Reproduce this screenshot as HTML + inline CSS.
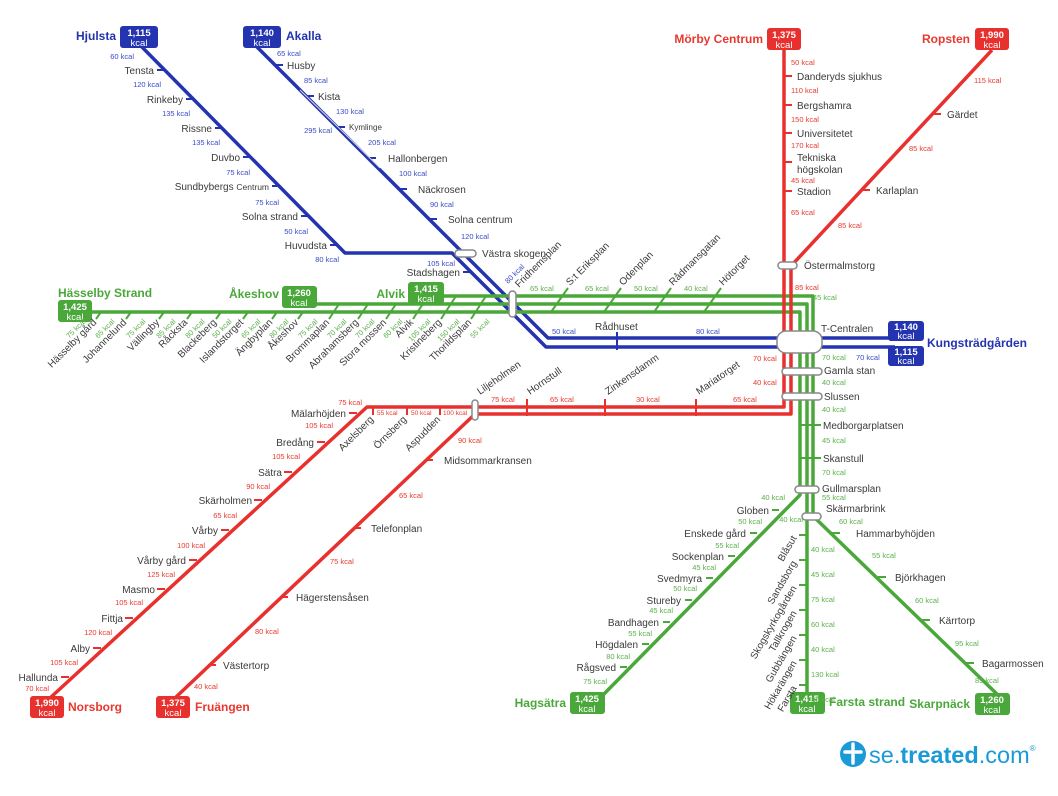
<!DOCTYPE html>
<html><head><meta charset="utf-8"><style>
html,body{margin:0;padding:0;background:#fff;}
svg{display:block;font-family:"Liberation Sans",sans-serif;}
.n{font-size:10px;fill:#3a3a3a;}
.b{font-size:7.5px;fill:#3a4bc8;}
.r{font-size:7.5px;fill:#e8392f;}
.g{font-size:7.5px;fill:#5bb04a;}
.tb{font-size:12px;font-weight:bold;fill:#2433b0;}
.tr{font-size:12px;font-weight:bold;fill:#e8392f;}
.tg{font-size:12px;font-weight:bold;fill:#4aa83a;}
.bx{font-size:9.5px;fill:#fff;font-weight:bold;}
.bk{font-size:9.5px;fill:#fff;}
</style></head><body>
<svg width="1058" height="796" viewBox="0 0 1058 796" xmlns="http://www.w3.org/2000/svg">
<g fill="none" stroke-linejoin="round">
<!-- BLUE -->
<g stroke="#2433b0" stroke-width="3.5">
<polyline points="140,45 345,253 452,253 546,347 895,347"/>
<polyline points="255,45 548,338 895,338"/>
<path d="M157,70h7M186,99h7M215,128h7M243,157h7M272,186h7M301,216h7M330,245h7" stroke-width="2"/>
<path d="M275,65h8M306,96h8M337,127h8M368,158h8M399,189h8M429,219h8M463,272h8M617,332v18" stroke-width="2"/>
</g>
<path d="M300,90 L380,168" stroke="#ddd" stroke-width="1"/>
<!-- GREEN -->
<g stroke="#4aa83a" stroke-width="3.5">
<polyline points="80,312 800,312 800,495 603,695"/>
<polyline points="300,304 807,304 807,700"/>
<polyline points="430,296 813,296 813,516 1000,697"/>
<g stroke-width="2">
<path d="M101,312l-5,7M131,312l-5,7M164,312l-5,7M192,312l-5,7M221,312l-5,7M248,312l-5,7M277,312l-5,7M303,312l-5,7"/>
<path d="M339,304l-10,15M368,304l-10,15M396,304l-10,15"/>
<path d="M428,296l-15,23M456,296l-15,23M486,296l-15,23"/>
<path d="M568,288l-17,24M621,288l-17,24M671,288l-17,24M721,288l-17,24"/>
<path d="M813,425h8M813,458h8M800,425h13M800,458h13"/>
<path d="M779,510h-7M757,533h-7M735,556h-7M713,578h-7M692,600h-7M670,622h-7M649,644h-7M627,667h-7"/>
<path d="M807,535h-8M807,560h-8M807,585h-8M807,610h-8M807,635h-8M807,660h-8M807,685h-8"/>
<path d="M832,533h8M878,577h8M922,620h8M966,663h8"/>
</g>
</g>
<!-- RED -->
<g stroke="#e8312e" stroke-width="3.5">
<polyline points="784,50 784,407 367,407 50,698"/>
<polyline points="992,50 791,266 791,414 475,414 175,698"/>
<g stroke-width="2">
<path d="M784,76h8M784,105h8M784,133h8M784,162h8M784,191h8"/>
<path d="M933,114h8M862,190h8"/>
<path d="M373,407v8M407,407v8M440,407v8M527,399v17M605,399v17M696,399v17"/>
<path d="M357,413h-8M325,442h-8M292,472h-8M262,500h-8M229,530h-8M197,560h-8M165,589h-8M133,618h-8M101,648h-8M69,677h-8"/>
<path d="M425,460h8M353,528h8M280,597h8M208,665h8"/>
</g>
</g>
</g>
<!-- interchange capsules -->
<g fill="#fff" stroke="#888" stroke-width="1.5">
<rect x="455" y="250" width="21" height="7" rx="3.5"/>
<rect x="509" y="291" width="7" height="26" rx="3.5"/>
<rect x="778" y="262" width="19" height="7" rx="3.5"/>
<rect x="777" y="331" width="45" height="22" rx="9"/>
<rect x="782" y="368" width="40" height="7" rx="3.5"/>
<rect x="782" y="393" width="40" height="7" rx="3.5"/>
<rect x="472" y="400" width="6" height="20" rx="3"/>
<rect x="795" y="486" width="24" height="7" rx="3.5"/>
<rect x="802" y="513" width="19" height="7" rx="3.5"/>
</g>
<!-- terminal boxes -->
<g>
<rect x="120" y="26" width="38" height="22" rx="3" fill="#2433b0"/><text x="139" y="36" text-anchor="middle" class="bx">1,115</text><text x="139" y="46" text-anchor="middle" class="bk">kcal</text>
<text x="116" y="40" text-anchor="end" class="tb">Hjulsta</text>
<rect x="243" y="26" width="38" height="22" rx="3" fill="#2433b0"/><text x="262" y="36" text-anchor="middle" class="bx">1,140</text><text x="262" y="46" text-anchor="middle" class="bk">kcal</text>
<text x="286" y="40" class="tb">Akalla</text>
<rect x="888" y="321" width="36" height="20" rx="3" fill="#2433b0"/><text x="906" y="330" text-anchor="middle" class="bx">1,140</text><text x="906" y="339" text-anchor="middle" class="bk">kcal</text>
<rect x="888" y="346" width="36" height="20" rx="3" fill="#2433b0"/><text x="906" y="355" text-anchor="middle" class="bx">1,115</text><text x="906" y="364" text-anchor="middle" class="bk">kcal</text>
<text x="927" y="347" class="tb">Kungsträdgården</text>
<rect x="767" y="28" width="34" height="22" rx="3" fill="#e8312e"/><text x="784" y="38" text-anchor="middle" class="bx">1,375</text><text x="784" y="48" text-anchor="middle" class="bk">kcal</text>
<text x="763" y="43" text-anchor="end" class="tr">Mörby Centrum</text>
<rect x="975" y="28" width="34" height="22" rx="3" fill="#e8312e"/><text x="992" y="38" text-anchor="middle" class="bx">1,990</text><text x="992" y="48" text-anchor="middle" class="bk">kcal</text>
<text x="970" y="43" text-anchor="end" class="tr">Ropsten</text>
<rect x="30" y="696" width="34" height="22" rx="3" fill="#e8312e"/><text x="47" y="706" text-anchor="middle" class="bx">1,990</text><text x="47" y="716" text-anchor="middle" class="bk">kcal</text>
<text x="68" y="711" class="tr">Norsborg</text>
<rect x="156" y="696" width="34" height="22" rx="3" fill="#e8312e"/><text x="173" y="706" text-anchor="middle" class="bx">1,375</text><text x="173" y="716" text-anchor="middle" class="bk">kcal</text>
<text x="195" y="711" class="tr">Fruängen</text>
<rect x="58" y="300" width="34" height="22" rx="3" fill="#4aa83a"/><text x="75" y="310" text-anchor="middle" class="bx">1,425</text><text x="75" y="320" text-anchor="middle" class="bk">kcal</text>
<text x="58" y="297" class="tg">Hässelby Strand</text>
<rect x="282" y="286" width="35" height="22" rx="3" fill="#4aa83a"/><text x="299" y="296" text-anchor="middle" class="bx">1,260</text><text x="299" y="306" text-anchor="middle" class="bk">kcal</text>
<text x="279" y="298" text-anchor="end" class="tg">Åkeshov</text>
<rect x="408" y="282" width="36" height="22" rx="3" fill="#4aa83a"/><text x="426" y="292" text-anchor="middle" class="bx">1,415</text><text x="426" y="302" text-anchor="middle" class="bk">kcal</text>
<text x="405" y="298" text-anchor="end" class="tg">Alvik</text>
<rect x="570" y="692" width="35" height="22" rx="3" fill="#4aa83a"/><text x="587" y="702" text-anchor="middle" class="bx">1,425</text><text x="587" y="712" text-anchor="middle" class="bk">kcal</text>
<text x="566" y="707" text-anchor="end" class="tg">Hagsätra</text>
<rect x="790" y="692" width="35" height="22" rx="3" fill="#4aa83a"/><text x="807" y="702" text-anchor="middle" class="bx">1,415</text><text x="807" y="712" text-anchor="middle" class="bk">kcal</text>
<text x="829" y="706" class="tg">Farsta strand</text>
<rect x="975" y="693" width="35" height="22" rx="3" fill="#4aa83a"/><text x="992" y="703" text-anchor="middle" class="bx">1,260</text><text x="992" y="713" text-anchor="middle" class="bk">kcal</text>
<text x="970" y="708" text-anchor="end" class="tg">Skarpnäck</text>
</g>
<!-- Hjulsta labels -->
<g class="n" text-anchor="end">
<text x="154" y="74">Tensta</text><text x="183" y="103">Rinkeby</text><text x="212" y="132">Rissne</text><text x="240" y="161">Duvbo</text>
<text x="269" y="190">Sundbybergs <tspan font-size="8.5">Centrum</tspan></text><text x="298" y="220">Solna strand</text><text x="327" y="249">Huvudsta</text>
<text x="460" y="276">Stadshagen</text>
</g>
<g class="b" text-anchor="end">
<text x="134" y="59">60 kcal</text><text x="161" y="87">120 kcal</text><text x="190" y="116">135 kcal</text><text x="220" y="145">135 kcal</text>
<text x="250" y="175">75 kcal</text><text x="279" y="205">75 kcal</text><text x="308" y="234">50 kcal</text><text x="339" y="262">80 kcal</text>
<text x="455" y="266">105 kcal</text><text x="332" y="133">295 kcal</text>
</g>
<!-- Akalla labels -->
<g class="n">
<text x="287" y="69">Husby</text><text x="318" y="100">Kista</text><text x="349" y="130" font-size="8">Kymlinge</text><text x="388" y="162">Hallonbergen</text>
<text x="418" y="193">Näckrosen</text><text x="448" y="223">Solna centrum</text><text x="482" y="257">Västra skogen</text>
</g>
<g class="b">
<text x="277" y="56">65 kcal</text><text x="304" y="83">85 kcal</text><text x="336" y="114">130 kcal</text><text x="368" y="145">205 kcal</text>
<text x="399" y="176">100 kcal</text><text x="430" y="207">90 kcal</text><text x="461" y="239">120 kcal</text>
<text x="552" y="334">50 kcal</text><text x="696" y="334">80 kcal</text><text x="856" y="360">70 kcal</text>
<text x="508" y="284" transform="rotate(-45 508 284)">80 kcal</text>
</g>
<text x="595" y="330" class="n">Rådhuset</text>
<!-- green west labels -->
<g class="n" text-anchor="end">
<text x="97" y="323" transform="rotate(-45 97 323)">Hässelby gård</text>
<text x="127" y="323" transform="rotate(-45 127 323)">Johannelund</text>
<text x="160" y="323" transform="rotate(-45 160 323)">Vällingby</text>
<text x="188" y="323" transform="rotate(-45 188 323)">Råcksta</text>
<text x="217" y="323" transform="rotate(-45 217 323)">Blackeberg</text>
<text x="244" y="323" transform="rotate(-45 244 323)">Islandstorget</text>
<text x="273" y="323" transform="rotate(-45 273 323)">Ängbyplan</text>
<text x="299" y="323" transform="rotate(-45 299 323)">Åkeshov</text>
<text x="330" y="323" transform="rotate(-45 330 323)">Brommaplan</text>
<text x="359" y="323" transform="rotate(-45 359 323)">Abrahamsberg</text>
<text x="387" y="323" transform="rotate(-45 387 323)">Stora mossen</text>
<text x="414" y="323" transform="rotate(-45 414 323)">Alvik</text>
<text x="442" y="323" transform="rotate(-45 442 323)">Kristineberg</text>
<text x="472" y="323" transform="rotate(-45 472 323)">Thorildsplan</text>
</g>
<g class="g" text-anchor="end">
<text x="86" y="322" transform="rotate(-45 86 322)">75 kcal</text>
<text x="115" y="322" transform="rotate(-45 115 322)">65 kcal</text>
<text x="146" y="322" transform="rotate(-45 146 322)">75 kcal</text>
<text x="176" y="322" transform="rotate(-45 176 322)">85 kcal</text>
<text x="205" y="322" transform="rotate(-45 205 322)">80 kcal</text>
<text x="232" y="322" transform="rotate(-45 232 322)">50 kcal</text>
<text x="261" y="322" transform="rotate(-45 261 322)">65 kcal</text>
<text x="289" y="322" transform="rotate(-45 289 322)">80 kcal</text>
<text x="318" y="322" transform="rotate(-45 318 322)">75 kcal</text>
<text x="347" y="322" transform="rotate(-45 347 322)">70 kcal</text>
<text x="375" y="322" transform="rotate(-45 375 322)">70 kcal</text>
<text x="403" y="322" transform="rotate(-45 403 322)">60 kcal</text>
<text x="431" y="322" transform="rotate(-45 431 322)">105 kcal</text>
<text x="460" y="322" transform="rotate(-45 460 322)">150 kcal</text>
<text x="490" y="322" transform="rotate(-45 490 322)">55 kcal</text>
</g>
<!-- green city labels -->
<g class="n">
<text x="519" y="288" transform="rotate(-45 519 288)">Fridhemsplan</text>
<text x="570" y="286" transform="rotate(-45 570 286)">S:t Eriksplan</text>
<text x="623" y="286" transform="rotate(-45 623 286)">Odenplan</text>
<text x="673" y="286" transform="rotate(-45 673 286)">Rådmansgatan</text>
<text x="723" y="286" transform="rotate(-45 723 286)">Hötorget</text>
<text x="804" y="269">Östermalmstorg</text>
<text x="821" y="332">T-Centralen</text>
<text x="824" y="374">Gamla stan</text>
<text x="824" y="400">Slussen</text>
<text x="823" y="429">Medborgarplatsen</text>
<text x="823" y="462">Skanstull</text>
<text x="822" y="492">Gullmarsplan</text>
<text x="826" y="512">Skärmarbrink</text>
</g>
<g class="g">
<text x="530" y="291">65 kcal</text><text x="585" y="291">65 kcal</text><text x="634" y="291">50 kcal</text><text x="684" y="291">40 kcal</text>
<text x="813" y="300">45 kcal</text><text x="822" y="360">70 kcal</text><text x="822" y="385">40 kcal</text><text x="822" y="412">40 kcal</text>
<text x="822" y="443">45 kcal</text><text x="822" y="475">70 kcal</text><text x="822" y="500">55 kcal</text>
</g>
<!-- red labels -->
<g class="n">
<text x="797" y="80">Danderyds sjukhus</text><text x="797" y="109">Bergshamra</text><text x="797" y="137">Universitetet</text>
<text x="797" y="161">Tekniska</text><text x="797" y="173">högskolan</text><text x="797" y="195">Stadion</text>
<text x="947" y="118">Gärdet</text><text x="876" y="194">Karlaplan</text>
</g>
<g class="r">
<text x="791" y="65">50 kcal</text><text x="791" y="93">110 kcal</text><text x="791" y="122">150 kcal</text><text x="791" y="148">170 kcal</text>
<text x="791" y="183">45 kcal</text><text x="791" y="215">65 kcal</text><text x="795" y="290">85 kcal</text>
<text x="974" y="83">115 kcal</text><text x="909" y="151">85 kcal</text><text x="838" y="228">85 kcal</text>
<text x="753" y="361">70 kcal</text><text x="753" y="385">40 kcal</text>
<text x="491" y="402">75 kcal</text><text x="550" y="402">65 kcal</text><text x="636" y="402">30 kcal</text><text x="733" y="402">65 kcal</text>
<text x="377" y="415" font-size="6.5">55 kcal</text><text x="411" y="415" font-size="6.5">50 kcal</text><text x="443" y="415" font-size="6.5">100 kcal</text>
</g>
<g class="n">
<text x="480" y="395" transform="rotate(-35 480 395)">Liljeholmen</text>
<text x="530" y="395" transform="rotate(-35 530 395)">Hornstull</text>
<text x="608" y="395" transform="rotate(-35 608 395)">Zinkensdamm</text>
<text x="699" y="395" transform="rotate(-35 699 395)">Mariatorget</text>
</g>
<g class="n" text-anchor="end">
<text x="374" y="420" transform="rotate(-45 374 420)">Axelsberg</text>
<text x="407" y="420" transform="rotate(-45 407 420)">Örnsberg</text>
<text x="441" y="420" transform="rotate(-45 441 420)">Aspudden</text>
<text x="346" y="417">Mälarhöjden</text><text x="314" y="446">Bredång</text><text x="282" y="476">Sätra</text><text x="252" y="504">Skärholmen</text>
<text x="218" y="534">Vårby</text><text x="186" y="564">Vårby gård</text><text x="155" y="593">Masmo</text><text x="123" y="622">Fittja</text>
<text x="90" y="652">Alby</text><text x="58" y="681">Hallunda</text>
</g>
<g class="r" text-anchor="end">
<text x="362" y="405">75 kcal</text><text x="333" y="428">105 kcal</text><text x="300" y="459">105 kcal</text><text x="270" y="489">90 kcal</text>
<text x="237" y="518">65 kcal</text><text x="205" y="548">100 kcal</text><text x="175" y="577">125 kcal</text><text x="143" y="605">105 kcal</text>
<text x="112" y="635">120 kcal</text><text x="78" y="665">105 kcal</text><text x="49" y="691">70 kcal</text>
</g>
<g class="n">
<text x="444" y="464">Midsommarkransen</text><text x="371" y="532">Telefonplan</text><text x="296" y="601">Hägerstensåsen</text><text x="223" y="669">Västertorp</text>
</g>
<g class="r">
<text x="458" y="443">90 kcal</text><text x="399" y="498">65 kcal</text><text x="330" y="564">75 kcal</text><text x="255" y="634">80 kcal</text><text x="194" y="689">40 kcal</text>
</g>
<!-- south green -->
<g class="n" text-anchor="end">
<text x="769" y="514">Globen</text><text x="746" y="537">Enskede gård</text><text x="724" y="560">Sockenplan</text><text x="702" y="582">Svedmyra</text>
<text x="681" y="604">Stureby</text><text x="659" y="626">Bandhagen</text><text x="638" y="648">Högdalen</text><text x="616" y="671">Rågsved</text>
<text x="797" y="538" transform="rotate(-60 797 538)">Blåsut</text>
<text x="797" y="563" transform="rotate(-60 797 563)">Sandsborg</text>
<text x="797" y="588" transform="rotate(-60 797 588)">Skogskyrkogården</text>
<text x="797" y="613" transform="rotate(-60 797 613)">Tallkrogen</text>
<text x="797" y="638" transform="rotate(-60 797 638)">Gubbängen</text>
<text x="797" y="663" transform="rotate(-60 797 663)">Hökarängen</text>
<text x="797" y="688" transform="rotate(-60 797 688)">Farsta</text>
</g>
<g class="g" text-anchor="end">
<text x="785" y="500">40 kcal</text><text x="762" y="524">50 kcal</text><text x="739" y="548">55 kcal</text><text x="716" y="570">45 kcal</text>
<text x="697" y="591">50 kcal</text><text x="673" y="613">45 kcal</text><text x="652" y="636">55 kcal</text><text x="630" y="659">80 kcal</text><text x="607" y="684">75 kcal</text>
<text x="803" y="522">40 kcal</text>
</g>
<g class="g">
<text x="811" y="552">40 kcal</text><text x="811" y="577">45 kcal</text><text x="811" y="602">75 kcal</text><text x="811" y="627">60 kcal</text>
<text x="811" y="652">40 kcal</text><text x="811" y="677">130 kcal</text><text x="811" y="702">85 kcal</text>
<text x="839" y="524">60 kcal</text><text x="872" y="558">55 kcal</text><text x="915" y="603">60 kcal</text><text x="955" y="646">95 kcal</text><text x="975" y="683">85 kcal</text>
</g>
<g class="n">
<text x="856" y="537">Hammarbyhöjden</text><text x="895" y="581">Björkhagen</text><text x="939" y="624">Kärrtorp</text><text x="982" y="667">Bagarmossen</text>
</g>
<!-- logo -->
<circle cx="853" cy="754" r="13" fill="#1a9ad6"/>
<path d="M845,752h16M853,744v5M853,755v8" stroke="#fff" stroke-width="3.5" stroke-linecap="round"/>
<text x="869" y="763" font-size="23.5" fill="#1a9ad6">se.<tspan font-weight="bold">treated</tspan>.com<tspan font-size="8" dy="-12">®</tspan></text>
</svg>
</body></html>
